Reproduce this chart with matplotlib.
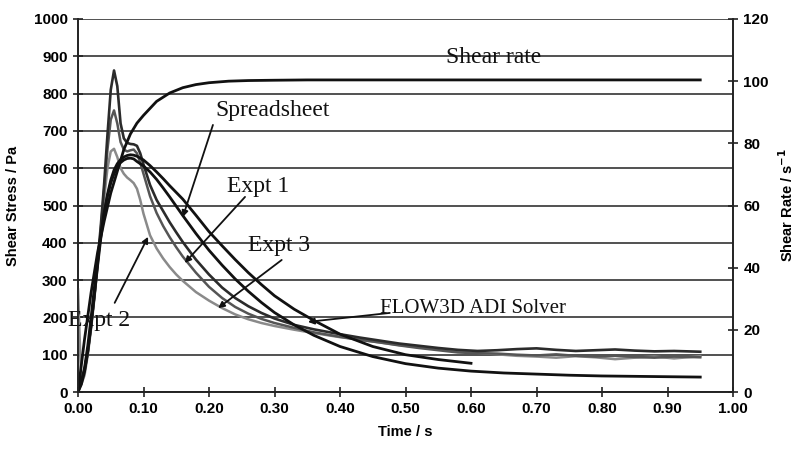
import matplotlib
matplotlib.use("Agg")
import matplotlib.pyplot as plt

# --- data ---
t_model = [0, 0.005, 0.01, 0.015, 0.02, 0.025, 0.03, 0.035, 0.04, 0.045, 0.05, 0.055,
           0.06, 0.065, 0.07, 0.075, 0.08, 0.085, 0.09, 0.10, 0.11, 0.12, 0.13, 0.14,
           0.15, 0.16, 0.18, 0.20, 0.22, 0.24, 0.26, 0.28, 0.30, 0.33, 0.36, 0.40,
           0.45, 0.50, 0.55, 0.60]
flow3d = [0, 20, 55, 110, 180, 260, 340, 415, 480, 530, 568, 595,
          612, 623, 630, 634, 636, 635, 632, 622, 607, 590, 572, 553,
          535, 517, 474, 430, 392, 355, 320, 288, 258, 222, 192, 155,
          122, 100, 87, 77]

t_sheet = t_model + [0.65, 0.70, 0.75, 0.80, 0.85, 0.90, 0.95]
spreadsheet = [0, 25, 65, 125, 200, 280, 355, 425, 480, 525, 560, 585,
               603, 615, 622, 626, 627, 625, 618, 606, 590, 570, 547, 523,
               498, 473, 425, 380, 340, 303, 270, 240, 213, 180, 152, 122,
               95, 76, 64, 56, 51, 48, 45, 43, 42, 41, 40]

t_exp = [0, 0.005, 0.01, 0.015, 0.02, 0.025, 0.03, 0.035, 0.04, 0.045, 0.05, 0.055,
         0.06, 0.065, 0.07, 0.075, 0.08, 0.085, 0.09, 0.095, 0.10, 0.11, 0.12, 0.13,
         0.14, 0.15, 0.16, 0.18, 0.20, 0.22, 0.24, 0.26, 0.28, 0.30, 0.33, 0.36,
         0.40, 0.43, 0.46, 0.49, 0.52, 0.55, 0.58, 0.61, 0.64, 0.67, 0.70, 0.73,
         0.76, 0.79, 0.82, 0.85, 0.88, 0.91, 0.95]
expt_a = [10, 30, 60, 110, 180, 260, 350, 450, 560, 690, 810, 862,
          820, 720, 680, 668, 665, 664, 660, 640, 610, 555, 515, 485,
          455, 428, 402, 355, 315, 280, 252, 230, 212, 197, 180, 168,
          155, 146, 138, 130, 124, 118, 113, 110, 112, 115, 117, 113,
          110, 112, 114, 111, 109, 110, 108]
expt_b = [5, 25, 55, 105, 175, 255, 345, 440, 545, 650, 730, 755,
          720, 670, 650, 645, 648, 650, 640, 615, 585, 525, 480, 445,
          415, 388, 363, 320, 282, 252, 228, 210, 196, 185, 172, 160,
          148, 140, 133, 125, 118, 112, 106, 104, 103, 100, 98, 101,
          97, 95, 97, 94, 92, 95, 93]
expt_c = [275, 20, 45, 100, 170, 250, 340, 430, 520, 600, 645, 652,
          630, 600, 585, 575, 568, 560, 545, 515, 478, 420, 385, 358,
          335, 315, 298, 268, 245, 225, 208, 195, 185, 177, 167, 158,
          147, 140, 133, 126, 120, 115, 108, 105, 101, 97, 95, 92,
          96, 93, 88, 92, 95, 90, 96]

t_rate = [0, 0.01, 0.02, 0.03, 0.04, 0.05, 0.06, 0.07, 0.08, 0.09, 0.10, 0.12,
          0.14, 0.16, 0.18, 0.20, 0.23, 0.26, 0.30, 0.35, 0.40, 0.50, 0.60, 0.70,
          0.80, 0.90, 0.95]
shear_rate = [0, 17, 32, 45, 55, 64, 71, 78, 83, 86.5, 89, 93.5,
              96.2, 97.9, 98.9, 99.5, 100.0, 100.2, 100.3, 100.4, 100.4, 100.4, 100.4, 100.4,
              100.4, 100.4, 100.4]

x_ticks = [0.0, 0.1, 0.2, 0.3, 0.4, 0.5, 0.6, 0.7, 0.8, 0.9, 1.0]
stress_ticks = list(range(0, 1001, 100))
rate_ticks = list(range(0, 121, 20))

# --- figure ---
fig = plt.figure(figsize=(7.98, 4.49), dpi=100)
ax = fig.add_axes([78 / 798, 1 - 392 / 449, 655 / 798, 373 / 449])
ax2 = ax.twinx()

tick_font = dict(fontsize=11, fontweight="bold", family="Liberation Sans")
label_font = dict(fontsize=10.5, fontweight="bold", family="Liberation Sans")

ax.set_xlim(0, 1)
ax.set_ylim(0, 1000)
ax2.set_ylim(0, 120)
ax.set_xticks(x_ticks)
ax.set_xticklabels([f"{v:.2f}" for v in x_ticks], **tick_font)
ax.set_yticks(stress_ticks)
ax.set_yticklabels([str(v) for v in stress_ticks], **tick_font)
ax2.set_yticks(rate_ticks)
ax2.set_yticklabels([str(v) for v in rate_ticks], **tick_font)

for a in (ax, ax2):
    a.tick_params(direction="inout", length=7, width=1.2, color="#222222", pad=4)
    a.spines["top"].set_visible(False)
    for s in ("left", "right", "bottom"):
        a.spines[s].set_linewidth(1.2)
        a.spines[s].set_color("#222222")

ax.yaxis.grid(True, color="#333333", linewidth=1.2)
ax.set_axisbelow(True)

ax.set_xlabel("Time / s", labelpad=6, **label_font)
ax.set_ylabel("Shear Stress / Pa", labelpad=10, **label_font)
ax2.set_ylabel(r"Shear Rate / s$^{\mathbf{-1}}$", labelpad=6, **label_font)

# stress curves
ax.plot(t_exp, expt_c, color="#8a8a8a", lw=1.8, zorder=3)
ax.plot(t_exp, expt_b, color="#555555", lw=1.8, zorder=3)
ax.plot(t_exp, expt_a, color="#2b2b2b", lw=1.9, zorder=3)
ax.plot(t_sheet, spreadsheet, color="#111111", lw=2.0, zorder=4)
ax.plot(t_model, flow3d, color="#111111", lw=2.0, zorder=4)

# shear rate on the right-hand axis
ax2.plot(t_rate, shear_rate, color="#111111", lw=2.0)

# labels and arrows
serif = dict(family="Liberation Serif", color="#111111")
arrow = dict(arrowstyle="-|>", color="#111111", lw=1.3, mutation_scale=9, shrinkA=0, shrinkB=0)

ax.text(0.562, 897, "Shear rate", fontsize=17, ha="left", va="center", **serif)
ax.text(0.209, 756, "Spreadsheet", fontsize=17, ha="left", va="center", **serif)
ax.text(0.228, 550, "Expt 1", fontsize=17, ha="left", va="center", **serif)
ax.text(0.26, 394, "Expt 3", fontsize=17, ha="left", va="center", **serif)
ax.text(-0.015, 192, "Expt 2", fontsize=17, ha="left", va="center", **serif)
ax.text(0.461, 225, "FLOW3D ADI Solver", fontsize=15, ha="left", va="center", **serif)

ax.annotate("", xy=(0.160, 469), xytext=(0.206, 716), arrowprops=arrow)
ax.annotate("", xy=(0.163, 346), xytext=(0.255, 523), arrowprops=arrow)
ax.annotate("", xy=(0.214, 225), xytext=(0.311, 354), arrowprops=arrow)
ax.annotate("", xy=(0.107, 416), xytext=(0.056, 239), arrowprops=arrow)
ax.annotate("", xy=(0.351, 188), xytext=(0.476, 212), arrowprops=arrow)

fig.savefig("out.png", dpi=100)
